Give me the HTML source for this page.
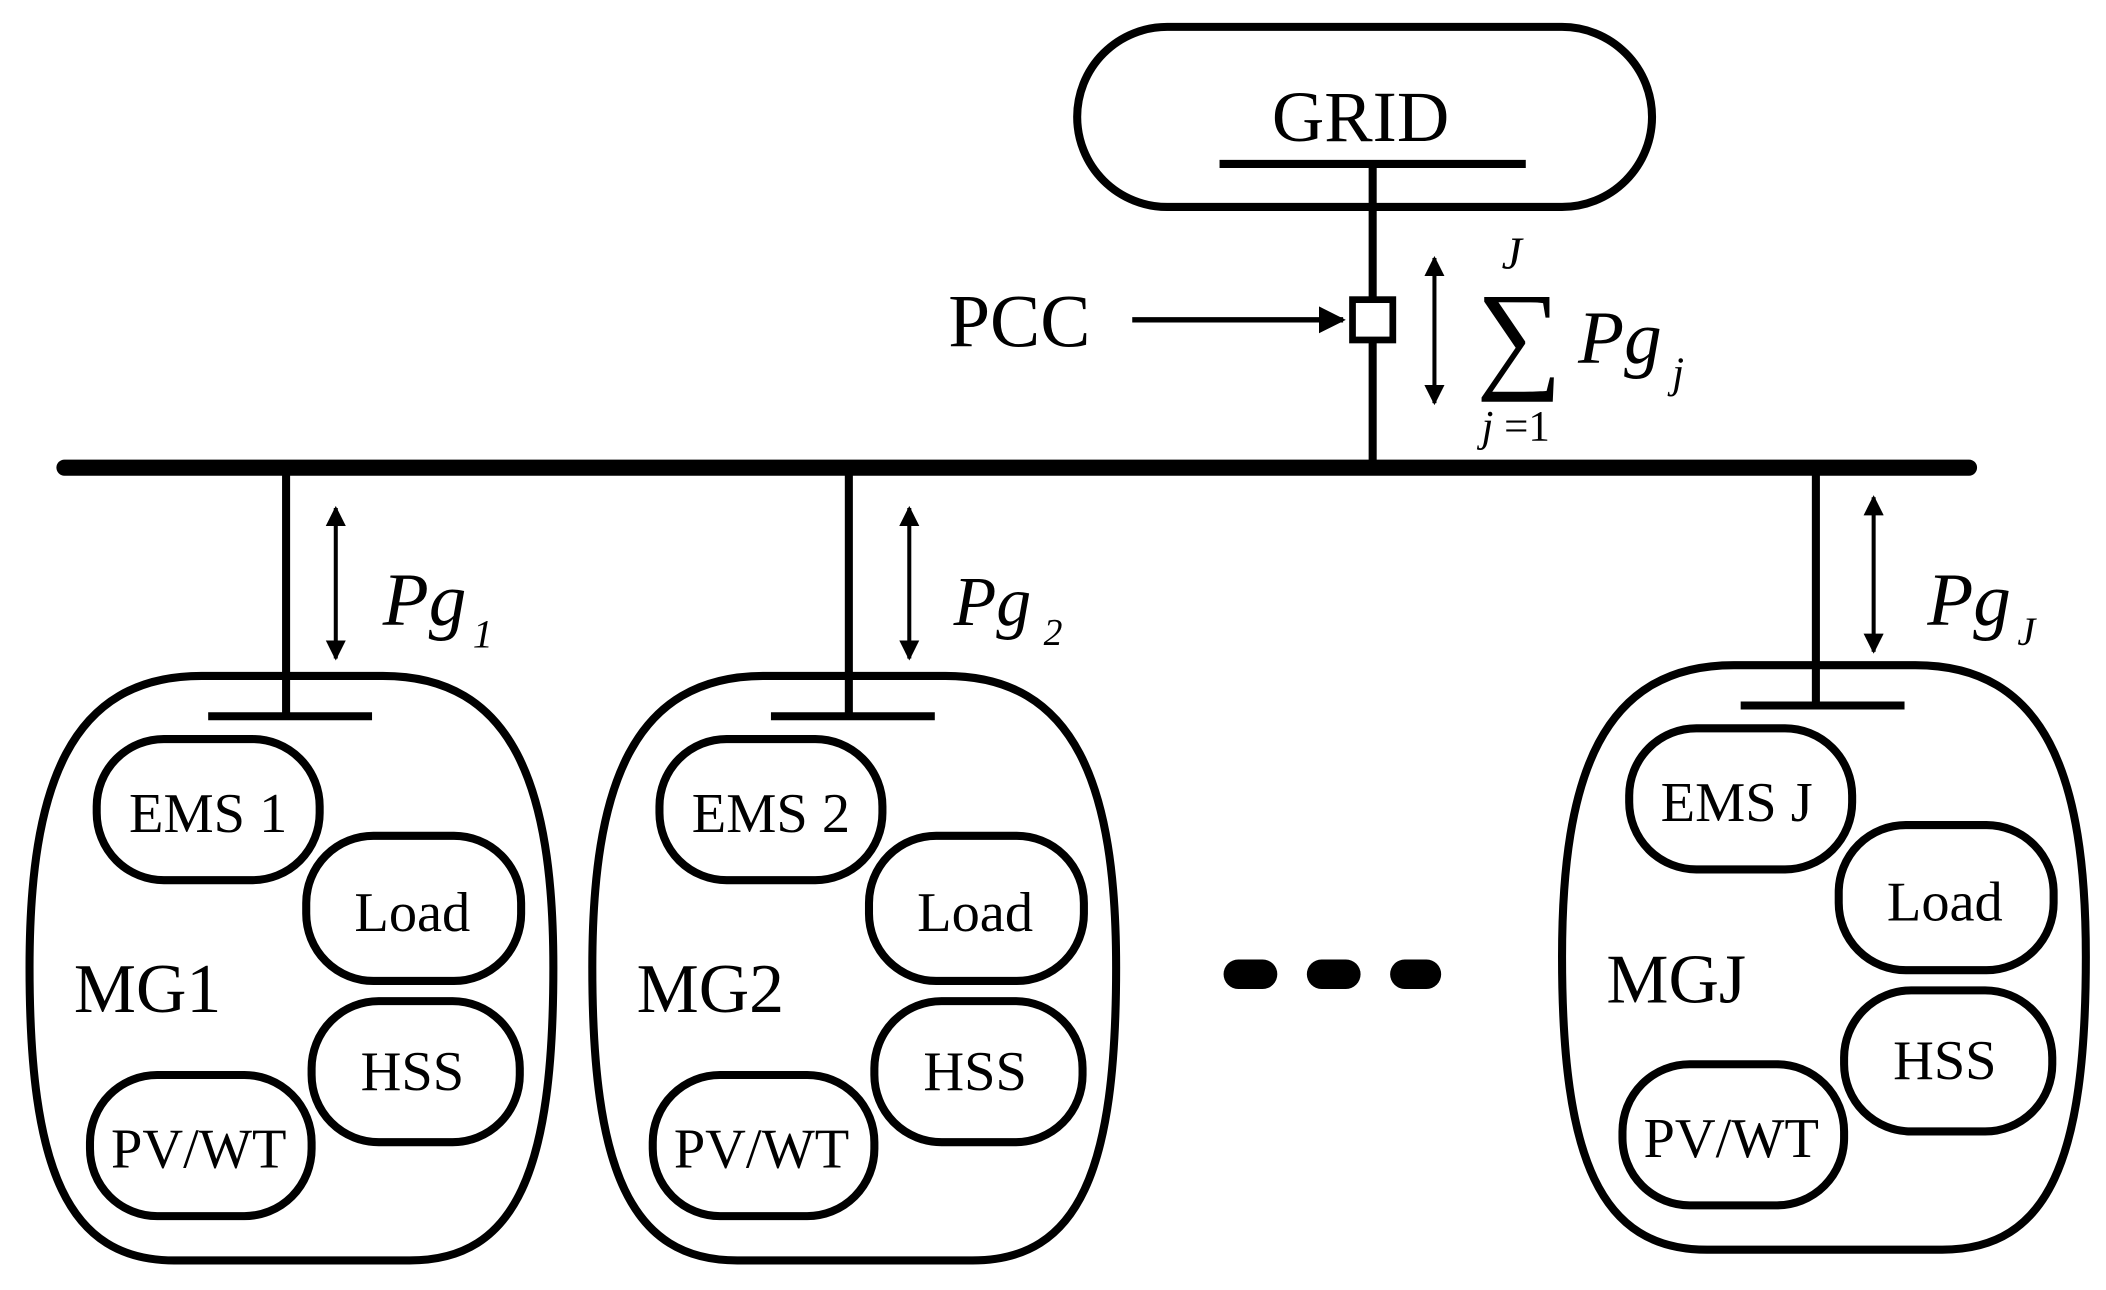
<!DOCTYPE html>
<html><head><meta charset="utf-8"><style>
html,body{margin:0;padding:0;background:#fff;}
svg{display:block;}
text{font-family:"Liberation Serif",serif;fill:#000;}
</style></head><body>
<svg width="2106" height="1290" viewBox="0 0 1568 960" preserveAspectRatio="none" xmlns="http://www.w3.org/2000/svg">
<defs>
<marker id="ah" viewBox="0 0 10 10" refX="9" refY="5" markerWidth="5" markerHeight="5" orient="auto-start-reverse"><path d="M0,0 L10,5 L0,10 z" fill="#000"/></marker>
<g id="mg">
  <path d="M150,503 C52,503 22,585 22,720 C22,870 50,938 130,938 L305,938 C385,938 412,870 412,720 C412,585 382,503 285,503 Z" fill="none" stroke="#000" stroke-width="6"/>
  <line x1="155" y1="533" x2="277" y2="533" stroke="#000" stroke-width="6"/>
  <rect x="72" y="550" width="166" height="105" rx="50" fill="none" stroke="#000" stroke-width="6"/>
  <rect x="228" y="622" width="160" height="108" rx="50" fill="none" stroke="#000" stroke-width="6"/>
  <rect x="232" y="745" width="155" height="105" rx="50" fill="none" stroke="#000" stroke-width="6"/>
  <rect x="67" y="800" width="165" height="105" rx="50" fill="none" stroke="#000" stroke-width="6"/>
  <text x="307" y="693" font-size="42" text-anchor="middle">Load</text>
  <text x="307" y="811" font-size="42" text-anchor="middle">HSS</text>
  <text x="148" y="869" font-size="42" text-anchor="middle">PV/WT</text>
</g>
</defs>
<!-- GRID -->
<rect x="802" y="20" width="428" height="134" rx="67" fill="none" stroke="#000" stroke-width="6"/>
<text x="1013" y="105" font-size="54" text-anchor="middle">GRID</text>
<line x1="908" y1="122" x2="1136" y2="122" stroke="#000" stroke-width="6"/>
<line x1="1022" y1="122" x2="1022" y2="348" stroke="#000" stroke-width="6"/>
<rect x="1007" y="223" width="30" height="30" fill="#fff" stroke="#000" stroke-width="5"/>
<text x="706" y="258" font-size="56">PCC</text>
<line x1="843" y1="238" x2="1000" y2="238" stroke="#000" stroke-width="4" marker-end="url(#ah)"/>
<line x1="1068" y1="192" x2="1068" y2="300" stroke="#000" stroke-width="3" marker-start="url(#ah)" marker-end="url(#ah)"/>
<text x="1099" y="280" font-size="90">∑</text>
<text x="1118" y="200" font-size="34" font-style="italic">J</text>
<text x="1103" y="328" font-size="32"><tspan font-style="italic">j</tspan> =1</text>
<text x="1175" y="270" font-size="56" font-style="italic">Pg</text>
<text x="1245" y="288" font-size="32" font-style="italic">j</text>
<!-- Bus -->
<line x1="48" y1="348" x2="1466" y2="348" stroke="#000" stroke-width="12" stroke-linecap="round"/>
<!-- MG1 -->
<line x1="213" y1="348" x2="213" y2="533" stroke="#000" stroke-width="6"/>
<line x1="250" y1="378" x2="250" y2="490" stroke="#000" stroke-width="3" marker-start="url(#ah)" marker-end="url(#ah)"/>
<text x="285" y="465" font-size="56" font-style="italic">Pg</text><text x="352" y="482" font-size="30" font-style="italic">1</text>
<use href="#mg"/>
<text x="155" y="619" font-size="42" text-anchor="middle">EMS 1</text>
<text x="55" y="753" font-size="52">MG1</text>
<!-- MG2 -->
<line x1="632" y1="348" x2="632" y2="533" stroke="#000" stroke-width="6"/>
<line x1="677" y1="378" x2="677" y2="490" stroke="#000" stroke-width="3" marker-start="url(#ah)" marker-end="url(#ah)"/>
<text x="710" y="465" font-size="52" font-style="italic">Pg</text><text x="777" y="480" font-size="28" font-style="italic">2</text>
<use href="#mg" transform="translate(419,0)"/>
<text x="574" y="619" font-size="42" text-anchor="middle">EMS 2</text>
<text x="474" y="753" font-size="52">MG2</text>
<!-- dots -->
<g stroke="#000" stroke-width="22" stroke-linecap="round">
<line x1="922" y1="725" x2="940" y2="725"/><line x1="984" y1="725" x2="1002" y2="725"/><line x1="1046" y1="725" x2="1062" y2="725"/>
</g>
<!-- MGJ -->
<line x1="1352" y1="348" x2="1352" y2="525" stroke="#000" stroke-width="6"/>
<line x1="1395" y1="370" x2="1395" y2="485" stroke="#000" stroke-width="3" marker-start="url(#ah)" marker-end="url(#ah)"/>
<text x="1435" y="465" font-size="56" font-style="italic">Pg</text><text x="1502" y="480" font-size="30" font-style="italic">J</text>
<use href="#mg" transform="translate(1141,-8)"/>
<text x="1293" y="611" font-size="42" text-anchor="middle">EMS J</text>
<text x="1196" y="746" font-size="52">MGJ</text>
</svg>
</body></html>
